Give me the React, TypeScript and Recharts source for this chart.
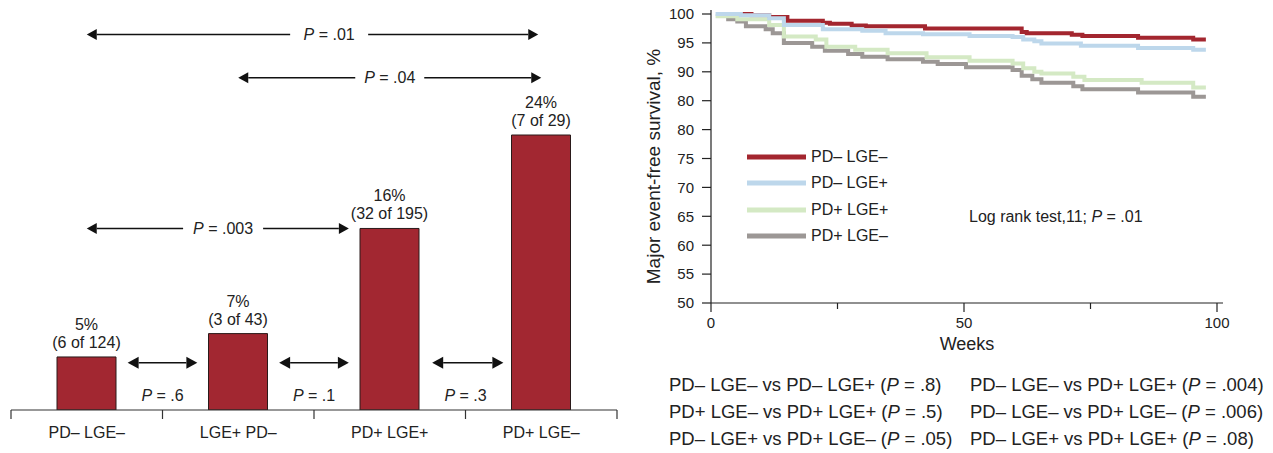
import React from 'react'
import { Bar, ComposedChart, LabelList, Legend, Line, ReferenceLine, XAxis, YAxis } from 'recharts'

// ---- left panel: major event rate by group ----
const groups = ['PD– LGE–', 'LGE+ PD–', 'PD+ LGE+', 'PD+ LGE–']
const eventRates = [5, 7, 16, 24]
const eventCounts = ['6 of 124', '3 of 43', '32 of 195', '7 of 29']
const pairPValues = ['.01', '.04', '.003', '.6', '.1', '.3']

// ---- right panel: Kaplan-Meier curves, [week, survival %] ----
const pdNegLgeNeg: [number, number][] = [
  [1, 100], [8, 99.8], [11.5, 99.5], [15.1, 98.85], [22.1, 98.5], [23.5, 98.3], [27.8, 98.0],
  [30.6, 97.9], [42.3, 97.5], [61.4, 96.9], [62.4, 96.65], [71.3, 96.4], [73.4, 96.2],
  [84.4, 95.9], [95.3, 95.6], [97.8, 95.6],
]
const pdNegLgePos: [number, number][] = [
  [0.9, 100], [5.9, 99.8], [11.5, 99.25], [14.4, 98.1], [22.1, 97.35], [29.9, 97.1], [34.5, 96.65],
  [41.9, 96.5], [51.1, 96.2], [59.6, 96.0], [61.7, 95.6], [63.9, 95.3], [65.3, 94.9],
  [73.1, 94.5], [84.4, 94.1], [95.3, 93.8], [97.8, 93.8],
]
const pdPosLgePos: [number, number][] = [
  [0.9, 99.6], [5.2, 99.1], [11.5, 98.1], [14.4, 96.1], [20.7, 95.6], [22.8, 94.35], [28.5, 93.8],
  [34.9, 93.2], [42.6, 92.5], [51.1, 91.9], [59.6, 91.45], [61.7, 90.6], [63.9, 90.0],
  [65.3, 89.7], [71.6, 89.15], [73.8, 88.6], [85.1, 88.1], [95.3, 87.3], [97.8, 87.3],
]
const pdPosLgeNeg: [number, number][] = [
  [3.0, 99.1], [5.2, 98.7], [6.9, 97.9], [10.8, 97.35], [12.2, 96.65], [14.4, 95.0], [20.0, 94.35],
  [22.5, 93.65], [27.1, 93.1], [29.9, 92.6], [34.9, 92.15], [41.9, 91.75], [44.8, 91.35],
  [50.4, 90.8], [59.6, 90.3], [61.4, 89.3], [63.5, 88.7], [65.3, 88.1], [71.6, 87.5],
  [73.4, 87.0], [84.4, 86.4], [95.3, 85.7], [97.8, 85.7],
]
const weekTicks = [0, 25, 50, 75, 100]
const weekTickLabels = ['0', '', '50', '', '100']
const survivalTicks = [50, 55, 60, 65, 70, 75, 80, 85, 90, 95, 100]
const survivalTickLabels = ['50', '55', '60', '65', '70', '75', '80', '80', '90', '95', '100']
const logRank = { df: '11', p: '.01' }
const kmComparisons: [string, string][] = [
  ['PD– LGE– vs PD– LGE+', '.8'],
  ['PD– LGE– vs PD+ LGE+', '.004'],
  ['PD+ LGE– vs PD+ LGE+', '.5'],
  ['PD– LGE– vs PD+ LGE–', '.006'],
  ['PD– LGE+ vs PD+ LGE–', '.05'],
  ['PD– LGE+ vs PD+ LGE+', '.08'],
]

const INK = '#222'
const BAR_RED = '#A22731'

const series = [
  { name: 'PD– LGE–', points: pdNegLgeNeg, color: '#A3262F' },
  { name: 'PD– LGE+', points: pdNegLgePos, color: '#BDD7EB' },
  { name: 'PD+ LGE+', points: pdPosLgePos, color: '#D4E9C4' },
  { name: 'PD+ LGE–', points: pdPosLgeNeg, color: '#9C9795' },
]
// draw order: red underneath, blue on top
const drawOrder = [0, 3, 2, 1]

// groups sit at the middle of unit slots on a 0..4 axis
const barData = groups.map((g, i) => ({ slot: i + 0.5, group: g, rate: eventRates[i], count: eventCounts[i] }))

// arrow placement, x in slot units (0..4), y in % units
const arrowLayout = [
  { x1: 0.5, x2: 3.48, y: 32.6, labelX: 2.1, gap: 78, below: false },
  { x1: 1.5, x2: 3.5, y: 28.9, labelX: 2.5, gap: 69, below: false },
  { x1: 0.5, x2: 2.23, y: 16.0, labelX: 1.4, gap: 80, below: false },
  { x1: 0.77, x2: 1.23, y: 4.5, labelX: 1.0, gap: 0, below: true },
  { x1: 1.77, x2: 2.23, y: 4.5, labelX: 2.0, gap: 0, below: true },
  { x1: 2.78, x2: 3.25, y: 4.5, labelX: 3.0, gap: 0, below: true },
]

function PLabel({ x, y, p }: { x: number; y: number; p: string }) {
  return (
    <text x={x} y={y} dy="0.35em" textAnchor="middle" fontSize={16} fill={INK}>
      <tspan fontStyle="italic">P</tspan> = {p}
    </text>
  )
}

function arrowShape(a: (typeof arrowLayout)[number], p: string) {
  return (props: any) => {
    const { x1, x2, y1: y } = props
    const head = a.below ? 11 : 10
    const half = a.below ? 6 : 5.5
    const lx = x1 + ((a.labelX - a.x1) / (a.x2 - a.x1)) * (x2 - x1)
    return (
      <g>
        {a.below ? (
          <line x1={x1 + head} x2={x2 - head} y1={y} y2={y} stroke="#111" strokeWidth={1.6} />
        ) : (
          <>
            <line x1={x1 + head} x2={lx - a.gap / 2} y1={y} y2={y} stroke="#111" strokeWidth={1.4} />
            <line x1={lx + a.gap / 2} x2={x2 - head} y1={y} y2={y} stroke="#111" strokeWidth={1.4} />
          </>
        )}
        <polygon points={`${x1},${y} ${x1 + head},${y - half} ${x1 + head},${y + half}`} fill="#111" />
        <polygon points={`${x2},${y} ${x2 - head},${y - half} ${x2 - head},${y + half}`} fill="#111" />
        <PLabel x={lx} y={a.below ? y + 33 : y} p={p} />
      </g>
    )
  }
}

function barLabel(offset: number, fmt: (v: any) => string) {
  return (props: any) => {
    const vb = props.viewBox ?? props
    const x = (vb.x ?? props.x) + (vb.width ?? props.width) / 2
    const y = vb.y ?? props.y
    return (
      <text x={x} y={y - offset} textAnchor="middle" fontSize={16} fill={INK}>
        {fmt(props.value)}
      </text>
    )
  }
}

const GroupTick = (props: any) => {
  const { x, y, payload } = props
  const v = payload.value as number
  if (Number.isInteger(v)) {
    return <line x1={x} x2={x} y1={y} y2={y + 9} stroke="#333" strokeWidth={1.2} />
  }
  return (
    <text x={x} y={y + 22} dy="0.35em" textAnchor="middle" fontSize={16} fill={INK}>
      {groups[Math.floor(v)]}
    </text>
  )
}

const WeekTick = (props: any) => {
  const { x, y, payload } = props
  const label = weekTickLabels[weekTicks.indexOf(payload.value)]
  return (
    <g>
      <line x1={x} x2={x} y1={y} y2={y + (label ? 9 : 6)} stroke={INK} strokeWidth={1.2} />
      {label ? (
        <text x={x} y={y + 20} dy="0.35em" textAnchor="middle" fontSize={15} fill={INK}>
          {label}
        </text>
      ) : null}
    </g>
  )
}

const WeeksLabel = (props: any) => {
  const vb = props.viewBox ?? props
  return (
    <text x={vb.x + vb.width / 2} y={vb.y + 41} dy="0.35em" textAnchor="middle" fontSize={18} fill={INK}>
      Weeks
    </text>
  )
}

const SurvivalLabel = (props: any) => {
  const vb = props.viewBox ?? props
  const cx = vb.x + 13
  const cy = vb.y + vb.height / 2 + 10
  return (
    <text x={cx} y={cy} dy="0.35em" textAnchor="middle" fontSize={19} fill={INK} transform={`rotate(-90 ${cx} ${cy})`}>
      Major event-free survival, %
    </text>
  )
}

function KMLegend() {
  return (
    <div>
      {series.map((s) => (
        <div key={s.name} style={{ height: 26.3, display: 'flex', alignItems: 'center' }}>
          <svg width={64} height={10}>
            <line x1={0} x2={59} y1={5} y2={5} stroke={s.color} strokeWidth={5} />
          </svg>
          <span style={{ fontSize: 16, color: INK }}>{s.name}</span>
        </div>
      ))}
    </div>
  )
}

export default function App() {
  return (
    <div style={{ position: 'relative', width: 1273, height: 453, background: '#fff', fontFamily: '"Liberation Sans", Arial, sans-serif', color: INK }}>
      <style>{'body{margin:0}'}</style>

      <div style={{ position: 'absolute', left: 0, top: 0 }}>
        <ComposedChart width={630} height={453} data={barData} margin={{ top: 10, right: 13, bottom: 13, left: 11 }}>
          <XAxis
            dataKey="slot"
            type="number"
            domain={[0, 4]}
            allowDataOverflow
            ticks={[0, 0.5, 1, 1.5, 2, 2.5, 3, 3.5, 4]}
            interval={0}
            height={30}
            tickLine={false}
            tickSize={0}
            tickMargin={0}
            tick={GroupTick}
            axisLine={{ stroke: '#333', strokeWidth: 1.2 }}
          />
          <YAxis type="number" domain={[0.46, 34.7]} allowDataOverflow hide />
          <Bar dataKey="rate" fill={BAR_RED} stroke="#2a1a1a" strokeWidth={1} barSize={59} isAnimationActive={false}>
            <LabelList dataKey="rate" content={barLabel(27, (v) => `${v}%`)} />
            <LabelList dataKey="count" content={barLabel(9, (v) => `(${v})`)} />
          </Bar>
          {arrowLayout.map((a, i) => (
            <ReferenceLine
              key={i}
              segment={[{ x: a.x1, y: a.y }, { x: a.x2, y: a.y }]}
              ifOverflow="visible"
              shape={arrowShape(a, pairPValues[i])}
            />
          ))}
        </ComposedChart>
      </div>

      <div style={{ position: 'absolute', left: 640, top: 0 }}>
        <ComposedChart width={633} height={360} margin={{ top: 10, right: 50, bottom: 0, left: 0 }}>
          <XAxis
            type="number"
            dataKey="w"
            domain={[0, 100]}
            ticks={weekTicks}
            interval={0}
            padding={{ left: 0, right: 6 }}
            height={57}
            tickLine={false}
            tickSize={0}
            tickMargin={0}
            tick={WeekTick}
            axisLine={{ stroke: INK, strokeWidth: 1.2 }}
            label={WeeksLabel}
          />
          <YAxis
            type="number"
            domain={[50, 100]}
            ticks={survivalTicks}
            interval={0}
            width={71}
            padding={{ top: 4, bottom: 0 }}
            tickSize={9}
            tickMargin={8}
            tick={{ fontSize: 15, fill: INK }}
            tickLine={{ stroke: INK, strokeWidth: 1.2 }}
            axisLine={{ stroke: INK, strokeWidth: 1.2 }}
            tickFormatter={(v: number) => survivalTickLabels[survivalTicks.indexOf(v)] ?? String(v)}
            label={SurvivalLabel}
          />
          {drawOrder.map((i) => {
            const s = series[i]
            return (
              <Line
                key={s.name}
                name={s.name}
                data={s.points.map(([w, v]) => ({ w, v }))}
                dataKey="v"
                type="stepAfter"
                stroke={s.color}
                strokeWidth={4}
                dot={false}
                activeDot={false}
                isAnimationActive={false}
              />
            )
          })}
          <Legend
            layout="vertical"
            align="center"
            verticalAlign="middle"
            content={() => <KMLegend />}
            wrapperStyle={{ left: 107, top: 144, width: 200 }}
          />
        </ComposedChart>
      </div>

      <div style={{ position: 'absolute', left: 969, top: 208, fontSize: 16, lineHeight: '18px', whiteSpace: 'nowrap' }}>
        Log rank test,{logRank.df}; <i>P</i> = {logRank.p}
      </div>

      <div
        style={{
          position: 'absolute',
          left: 669,
          top: 371,
          display: 'grid',
          gridTemplateColumns: '301px 310px',
          fontSize: 18.5,
          lineHeight: '27px',
          whiteSpace: 'nowrap',
        }}
      >
        {kmComparisons.map(([pair, p]) => (
          <div key={pair}>
            {pair} (<i>P</i> = {p})
          </div>
        ))}
      </div>
    </div>
  )
}
